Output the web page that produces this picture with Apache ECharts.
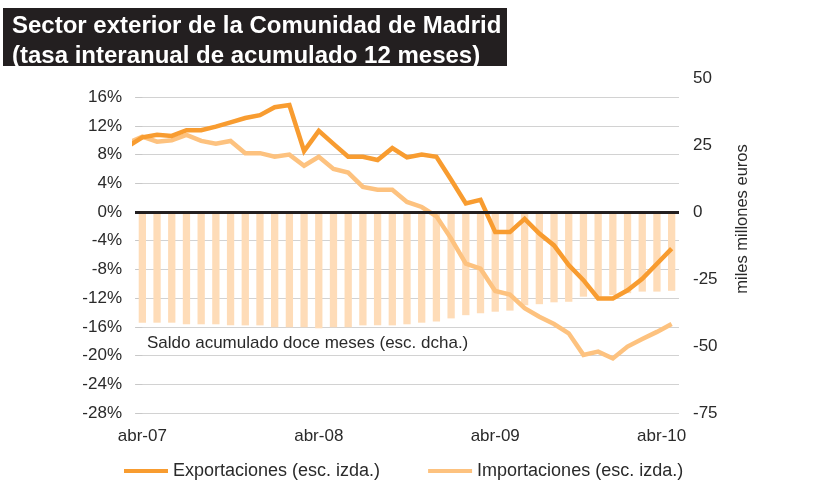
<!DOCTYPE html>
<html>
<head>
<meta charset="utf-8">
<script src="https://cdn.jsdelivr.net/npm/echarts@6/dist/echarts.min.js"></script>
<style>
    html, body {margin: 0; padding: 0; background: #fff;}
    #chart {width: 834px; height: 482px;}
</style>
</head>
<body>
<div id="chart"></div>
<script>
// meses del eje (abr-07 .. abr-10)
const meses = ['abr-07','may-07','jun-07','jul-07','ago-07','sep-07','oct-07','nov-07','dic-07','ene-08','feb-08','mar-08',
    'abr-08','may-08','jun-08','jul-08','ago-08','sep-08','oct-08','nov-08','dic-08','ene-09','feb-09','mar-09',
    'abr-09','may-09','jun-09','jul-09','ago-09','sep-09','oct-09','nov-09','dic-09','ene-10','feb-10','mar-10','abr-10']
// las lineas empiezan un mes antes (mar-07)
const mesesLineas = ['mar-07'].concat(meses)
const exportaciones = [9.1, 10.4, 10.75, 10.6, 11.4, 11.4, 11.9, 12.5, 13.1, 13.5, 14.6, 14.9, 8.5, 11.3, 9.5, 7.7, 7.7, 7.25, 8.9,
    7.6, 8.0, 7.7, 4.5, 1.2, 1.7, -2.8, -2.8, -0.95, -3.0, -4.65, -7.4, -9.5, -12.05, -12.05, -10.9, -9.3, -7.2, -5.1]
const importaciones = [9.6, 10.5, 9.8, 10.0, 10.75, 9.9, 9.5, 9.9, 8.2, 8.2, 7.7, 8.0, 6.45, 7.7, 6.0, 5.5, 3.5, 3.1, 3.1,
    1.4, 0.7, -0.6, -3.7, -7.2, -7.9, -11.0, -11.5, -13.4, -14.6, -15.6, -16.9, -19.9, -19.45, -20.4, -18.75, -17.7, -16.7, -15.6]
// saldo acumulado doce meses, miles de millones de euros (esc. dcha.)
const saldo = [-41.3, -41.3, -41.3, -41.9, -41.9, -41.9, -42.3, -42.3, -42.3, -43.0, -43.0, -43.0, -43.4, -43.0, -43.0, -42.3, -42.3,
    -42.3, -41.9, -41.3, -40.9, -39.7, -38.5, -37.8, -37.2, -36.8, -34.8, -34.4, -33.7, -33.5, -31.6, -31.6, -31.0, -30.3, -29.7, -29.7, -29.4]
const ticksIzda = {min: -28, max: 18.67, interval: 4}
const ticksDcha = {min: -75, max: 50, interval: 25}

const font = '"Liberation Sans", Arial, Helvetica, sans-serif'
const textColor = '#2a2a2a'

const toPoints = (arr) => arr.map((v, i) => [i - 1, v])

const myChart = echarts.init(document.getElementById('chart'), null, {renderer: 'canvas'})
const option = {
    animation: false,
    textStyle: {fontFamily: font},
    grid: {left: 135, right: 155, top: 78, bottom: 69, containLabel: false},
    legend: {
        left: 119,
        top: 457,
        icon: 'rect',
        itemWidth: 44,
        itemHeight: 4,
        itemGap: 48,
        textStyle: {fontSize: 18, color: textColor, fontFamily: font},
        data: ['Exportaciones (esc. izda.)', 'Importaciones (esc. izda.)']
    },
    xAxis: [
        {
            type: 'category',
            data: meses,
            boundaryGap: true,
            axisLine: {show: false},
            axisTick: {show: false},
            splitLine: {show: false},
            axisLabel: {
                interval: 11,
                margin: 15,
                fontSize: 17,
                color: textColor,
                fontFamily: font,
                formatter: (v, i) => i === meses.length - 1 ? '{u|' + v + '}' : v,
                rich: {u: {fontSize: 17, color: textColor, fontFamily: font, padding: [0, 20, 0, 0]}}
            }
        },
        {
            type: 'value',
            show: false,
            min: -0.5,
            max: meses.length - 0.5
        }
    ],
    yAxis: [
        {
            type: 'value',
            position: 'left',
            min: ticksIzda.min,
            max: ticksIzda.max,
            interval: ticksIzda.interval,
            axisLine: {show: false},
            axisTick: {show: true, length: 7, lineStyle: {color: '#c8c8c8'}},
            splitLine: {show: true, showMaxLine: false, lineStyle: {color: '#d2d2d2', width: 1}},
            axisLabel: {
                showMaxLabel: false,
                margin: 13,
                fontSize: 17,
                color: textColor,
                fontFamily: font,
                formatter: (v) => v + '%'
            }
        },
        {
            type: 'value',
            position: 'right',
            min: ticksDcha.min,
            max: ticksDcha.max,
            interval: ticksDcha.interval,
            axisLine: {show: false},
            axisTick: {show: false},
            splitLine: {show: false},
            axisLabel: {margin: 14, fontSize: 17, color: textColor, fontFamily: font}
        }
    ],
    series: [
        {
            name: 'Saldo',
            type: 'bar',
            xAxisIndex: 0,
            yAxisIndex: 1,
            data: saldo,
            barWidth: 7.3,
            itemStyle: {color: '#fedcb8'},
            markLine: {
                silent: true,
                symbol: ['none', 'none'],
                label: {show: false},
                lineStyle: {color: '#231f20', width: 3, type: 'solid'},
                data: [{yAxis: 0}]
            }
        },
        {
            name: 'Importaciones (esc. izda.)',
            type: 'line',
            xAxisIndex: 1,
            yAxisIndex: 0,
            data: toPoints(importaciones),
            clip: false,
            symbol: 'none',
            lineStyle: {color: '#fdc27f', width: 4.5, join: 'miter'},
            itemStyle: {color: '#fdc27f'}
        },
        {
            name: 'Exportaciones (esc. izda.)',
            type: 'line',
            xAxisIndex: 1,
            yAxisIndex: 0,
            data: toPoints(exportaciones),
            clip: false,
            symbol: 'none',
            lineStyle: {color: '#f89c30', width: 4.5, join: 'miter'},
            itemStyle: {color: '#f89c30'}
        }
    ],
    graphic: [
        {
            type: 'rect',
            left: 3,
            top: 8,
            shape: {width: 504, height: 58},
            style: {fill: '#231f20'}
        },
        {
            type: 'text',
            left: 12,
            top: 11,
            style: {
                text: 'Sector exterior de la Comunidad de Madrid\n(tasa interanual de acumulado 12 meses)',
                fill: '#fff',
                font: 'bold 24px ' + font,
                lineHeight: 30
            }
        },
        {
            type: 'text',
            left: 147,
            top: 335,
            style: {
                text: 'Saldo acumulado doce meses (esc. dcha.)',
                fill: textColor,
                font: '17px ' + font
            }
        },
        {
            type: 'text',
            x: 742,
            y: 219,
            rotation: Math.PI / 2,
            style: {
                text: 'miles millones euros',
                fill: textColor,
                font: '16.5px ' + font,
                align: 'center',
                verticalAlign: 'middle'
            }
        }
    ]
}
myChart.setOption(option)
</script>
</body>
</html>
